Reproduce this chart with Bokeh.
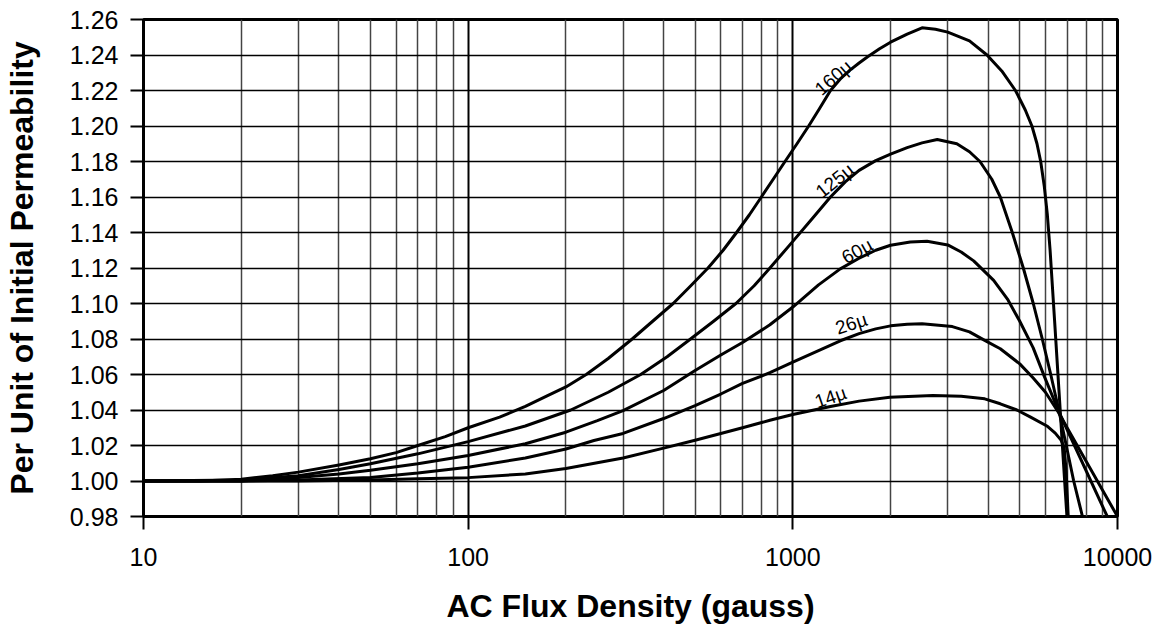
from bokeh.plotting import figure
from bokeh.models import Range1d, FixedTicker, NumeralTickFormatter, ColumnDataSource
from bokeh.core.properties import value
from bokeh.embed import file_html
from bokeh.resources import INLINE

# ---- data ----
b_160 = [10, 15, 20, 25, 30, 40, 50, 60, 70, 85, 100, 125, 150, 175, 200, 231, 270, 320, 370, 428, 485, 548,
         610, 671, 735, 800, 870, 946, 1030, 1119, 1210, 1306, 1400, 1500, 1600, 1700, 1850, 2000, 2250, 2500,
         2750, 3000, 3500, 3963, 4400, 4850, 5200, 5450, 5650, 5800, 5950, 6080, 6200, 6400, 6600, 6800, 6986]
mu_160 = [1.000, 1.000, 1.001, 1.003, 1.005, 1.009, 1.0125, 1.016, 1.020, 1.025, 1.030, 1.036, 1.042, 1.048,
          1.053, 1.060, 1.069, 1.080, 1.090, 1.100, 1.110, 1.120, 1.130, 1.140, 1.150, 1.160, 1.170, 1.180,
          1.190, 1.200, 1.210, 1.220, 1.2265, 1.2315, 1.2355, 1.239, 1.2435, 1.2472, 1.2518, 1.2553, 1.2545,
          1.2529, 1.248, 1.240, 1.231, 1.220, 1.209, 1.200, 1.190, 1.180, 1.166, 1.150, 1.130, 1.0905, 1.0515,
          1.0135, 0.980]

b_125 = [10, 20, 30, 40, 50, 70, 100, 150, 207, 270, 340, 410, 484, 570, 668, 760, 850, 1000, 1150, 1306,
         1450, 1600, 1800, 2000, 2250, 2500, 2785, 3200, 3500, 3770, 4100, 4355, 4742, 5127, 5503, 5866, 6229,
         6593, 6953, 7330, 7800]
mu_125 = [1.000, 1.0005, 1.003, 1.0065, 1.0097, 1.0153, 1.0222, 1.031, 1.040, 1.050, 1.060, 1.070, 1.080,
          1.090, 1.100, 1.110, 1.120, 1.135, 1.148, 1.160, 1.1685, 1.175, 1.1805, 1.1842, 1.1878, 1.1905,
          1.1924, 1.190, 1.1855, 1.180, 1.170, 1.160, 1.140, 1.120, 1.100, 1.080, 1.060, 1.040, 1.020, 1.000,
          0.980]

b_60 = [10, 20, 30, 40, 50, 70, 100, 150, 200, 250, 300, 400, 500, 600, 700, 850, 1000, 1200, 1400, 1600,
        1800, 2000, 2300, 2590, 3000, 3300, 3606, 4155, 4600, 5000, 5500, 5963, 6300, 6560, 9300]
mu_60 = [1.000, 1.000, 1.002, 1.004, 1.006, 1.0097, 1.0144, 1.021, 1.0275, 1.034, 1.0397, 1.051, 1.0623,
         1.071, 1.078, 1.088, 1.098, 1.1105, 1.1195, 1.1255, 1.1300, 1.1328, 1.1347, 1.1351, 1.133, 1.129,
         1.124, 1.113, 1.102, 1.090, 1.075, 1.0585, 1.048, 1.040, 0.980]

b_26 = [10, 20, 30, 50, 70, 100, 150, 200, 244, 300, 400, 500, 600, 700, 850, 1000, 1200, 1400, 1600, 1800,
        2000, 2250, 2500, 3100, 3500, 3900, 4355, 5000, 5500, 6000, 6560, 10000]
mu_26 = [1.000, 1.000, 1.0005, 1.002, 1.0045, 1.0078, 1.013, 1.018, 1.0228, 1.0268, 1.0352, 1.0425, 1.049,
         1.055, 1.061, 1.067, 1.0735, 1.0790, 1.0830, 1.0857, 1.0874, 1.0883, 1.0886, 1.087, 1.084, 1.0792,
         1.0745, 1.066, 1.058, 1.050, 1.039, 0.980]

b_14 = [10, 30, 50, 70, 100, 150, 200, 300, 400, 500, 600, 700, 850, 1000, 1306, 1600, 1990, 2700, 3300,
        3900, 4355, 4900, 5400, 6060, 6430, 6700, 6850, 6950, 7050]
mu_14 = [1.000, 1.000, 1.0005, 1.0012, 1.0019, 1.004, 1.007, 1.013, 1.0185, 1.0230, 1.0268, 1.0300, 1.0342,
         1.0375, 1.0420, 1.045, 1.0472, 1.0482, 1.0477, 1.0463, 1.0435, 1.040, 1.036, 1.031, 1.027, 1.023,
         1.019, 1.005, 0.980]

curve_names = ["160µ", "125µ", "60µ", "26µ", "14µ"]
label_b = [1334, 1346, 1578, 1514, 1306]
label_mu = [1.2273, 1.1693, 1.1295, 1.0886, 1.0472]
label_angle = [41, 39, 29, 18, 19]

y_ticks = [0.98, 1.00, 1.02, 1.04, 1.06, 1.08, 1.10, 1.12, 1.14, 1.16, 1.18, 1.20, 1.22, 1.24, 1.26]
x_ticks = [10, 100, 1000, 10000]
x_minor = [20, 30, 40, 50, 60, 70, 80, 90, 200, 300, 400, 500, 600, 700, 800, 900,
           2000, 3000, 4000, 5000, 6000, 7000, 8000, 9000]

FONT = "Liberation Sans"

p = figure(width=1157, height=626, x_axis_type="log",
           x_range=Range1d(10, 10000), y_range=Range1d(0.98, 1.26),
           output_backend="svg", toolbar_location=None,
           min_border_left=143, min_border_right=40, min_border_top=19, min_border_bottom=110)
p.background_fill_color = "white"
p.border_fill_color = "white"
p.outline_line_color = "black"
p.outline_line_width = 3

# grids
p.ygrid.ticker = FixedTicker(ticks=y_ticks)
p.ygrid.grid_line_color = "black"
p.ygrid.grid_line_width = 1.5
p.xgrid.ticker = FixedTicker(ticks=x_ticks, minor_ticks=x_minor)
p.xgrid.grid_line_color = "black"
p.xgrid.grid_line_width = 2
p.xgrid.minor_grid_line_color = "#444444"
p.xgrid.minor_grid_line_width = 1.5

# axes
p.xaxis.ticker = FixedTicker(ticks=x_ticks, minor_ticks=x_minor)
p.xaxis.formatter = NumeralTickFormatter(format="0")
p.yaxis.ticker = FixedTicker(ticks=y_ticks)
p.yaxis.formatter = NumeralTickFormatter(format="0.00")
for ax in (p.xaxis[0], p.yaxis[0]):
    ax.axis_line_color = None
    ax.major_tick_out = 13
    ax.major_tick_in = 0
    ax.major_tick_line_color = "black"
    ax.major_tick_line_width = 2
    ax.minor_tick_line_color = None
    ax.major_label_text_font = FONT
    ax.major_label_text_font_size = "25px"
    ax.major_label_text_color = "black"
    ax.axis_label_text_font = FONT
    ax.axis_label_text_font_size = "32px"
    ax.axis_label_text_font_style = "bold"
    ax.axis_label_text_color = "black"
p.xaxis.axis_label = "AC Flux Density (gauss)"
p.yaxis.axis_label = "Per Unit of Initial Permeability"
p.xaxis.major_label_standoff = 18
p.yaxis.major_label_standoff = 12
p.xaxis.axis_label_standoff = 19
p.yaxis.axis_label_standoff = 27

# curves
for bx, my in [(b_160, mu_160), (b_125, mu_125), (b_60, mu_60), (b_26, mu_26), (b_14, mu_14)]:
    p.line(bx, my, line_color="black", line_width=3, line_join="round")

# curve labels
lab = ColumnDataSource(dict(x=label_b, y=label_mu, t=curve_names, a=label_angle))
p.text(x="x", y="y", text="t", angle="a", angle_units="deg", source=lab,
       text_font=value(FONT), text_font_size="19px", text_color="black",
       text_align="center", text_baseline="middle")

open("out.html", "w").write(file_html(p, INLINE))
